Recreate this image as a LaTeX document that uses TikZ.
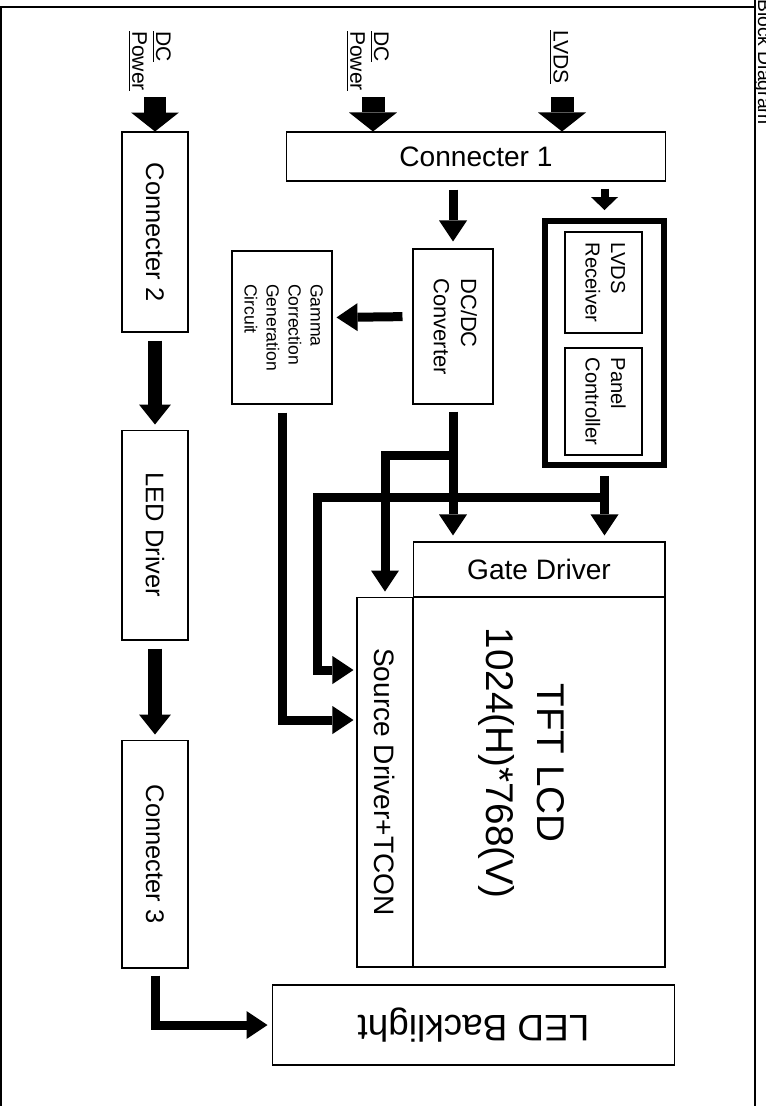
\documentclass[tikz,border=0pt]{standalone}
\usepackage{fontspec}
\setmainfont{Liberation Sans}
\usepackage{graphicx}
\usetikzlibrary{arrows.meta}

\tikzset{
  box/.style={draw, line width=0.6pt, inner sep=0pt, align=center},
  bigtext/.style={font=\fontsize{16}{19}\selectfont},
  coltext/.style={font=\fontsize{14.5}{17}\selectfont},
  smalltext/.style={font=\fontsize{12}{13.5}\selectfont},
  inarrow/.style={line width=0.46cm, -{Triangle[width=0.96cm,length=0.38cm,line width=0pt]}},
  colarrow/.style={line width=0.28cm, -{Triangle[width=0.64cm,length=0.4cm,line width=0pt]}},
  midarrow/.style={line width=0.18cm, -{Triangle[width=0.56cm,length=0.42cm,line width=0pt]}},
  shortarrow/.style={line width=0.16cm, -{Triangle[width=0.54cm,length=0.26cm,line width=0pt]}},
  frameline/.style={line width=0.8pt}
}

\begin{document}
\begin{tikzpicture}[x=0.02cm, y=-0.02cm]
\useasboundingbox (0,0) rectangle (766,1106);
    % Rahmen:
    \draw[frameline] (0,7) -- (755,7); % oben
    \draw[frameline] (1,7) -- (1,1106); % links
    \draw[frameline] (755,0) -- (755,1106); % rechts
    \node[rotate=-90, anchor=base west, inner sep=0pt, font=\fontsize{11}{13}\selectfont] (titel) at (758,-1) {Block Diagram};
    % Eingaenge:
    \node[smalltext, align=left, inner sep=0pt] (dcin1txt) at (149,61) {\rotatebox{-90}{\begin{tabular}{@{}l@{}}\underline{DC}\\\underline{Power}\end{tabular}}};
    \node[smalltext, align=left, inner sep=0pt] (dcin2txt) at (367,61) {\rotatebox{-90}{\begin{tabular}{@{}l@{}}\underline{DC}\\\underline{Power}\end{tabular}}};
    \node[smalltext, inner sep=0pt] (lvdsintxt) at (559,57) {\rotatebox{-90}{\underline{LVDS}}};
    \coordinate (in1) at (155,97);
    \coordinate (in2) at (373,97);
    \coordinate (in3) at (562,97);
    % Bloecke:
    \node[box, bigtext, minimum width=7.6cm, minimum height=0.98cm] (c1) at (476,156.5) {Connecter 1};
    \node[box, coltext, minimum width=1.32cm, minimum height=4cm] (c2) at (155,232) {\rotatebox{-90}{Connecter 2}};
    \node[box, coltext, minimum width=1.32cm, minimum height=4.2cm] (led) at (155,535) {\rotatebox{-90}{LED Driver}};
    \node[box, coltext, minimum width=1.32cm, minimum height=4.56cm] (c3) at (155,854) {\rotatebox{-90}{Connecter 3}};
    \node[box, font=\fontsize{12.5}{15.5}\selectfont, minimum width=1.6cm, minimum height=3.1cm] (dcdc) at (453,326.5) {\rotatebox{-90}{\begin{tabular}{@{}l@{}}DC/DC\\Converter\end{tabular}}};
    \node[box, font=\fontsize{10}{12.5}\selectfont, minimum width=2cm, minimum height=3.06cm] (gamma) at (282,327.5) {\rotatebox{-90}{\begin{tabular}{@{}l@{}}Gamma\\Correction\\Generation\\Circuit\end{tabular}}};
    \node[draw, line width=0.12cm, inner sep=0pt, minimum width=2.38cm, minimum height=4.88cm] (lvds) at (604.5,343) {};
    \node[box, font=\fontsize{11.5}{14.5}\selectfont, minimum width=1.54cm, minimum height=2.02cm] (rx) at (603.5,282.5) {\rotatebox{-90}{\begin{tabular}{@{}l@{}}LVDS\\Receiver\end{tabular}}};
    \node[box, font=\fontsize{11.5}{14.5}\selectfont, minimum width=1.54cm, minimum height=2.14cm] (pc) at (603.5,401.5) {\rotatebox{-90}{\begin{tabular}{@{}l@{}}Panel\\Controller\end{tabular}}};
    \node[box, bigtext, minimum width=5.04cm, minimum height=1.1cm] (gate) at (539,569.5) {Gate Driver};
    \node[box, minimum width=5.04cm, minimum height=7.4cm] (lcd) at (539,782) {};
    \node[font=\fontsize{22}{28.5}\selectfont, inner sep=0pt] (lcdtxt) at (522,763) {\rotatebox{-90}{\begin{tabular}{@{}c@{}}TFT LCD\\1024(H)*768(V)\end{tabular}}};
    \node[box, font=\fontsize{16}{18}\selectfont, minimum width=1.12cm, minimum height=7.4cm] (src) at (385,782) {\rotatebox{-90}{Source Driver+TCON}};
    \node[box, font=\fontsize{21}{24}\selectfont, minimum width=8.06cm, minimum height=1.6cm] (bl) at (473.5,1025) {\rotatebox{180}{LED Backlight}};
    % Pfeile oben:
    \draw[inarrow] (in1) -- (c2.north); % DC Power links
    \draw[inarrow] (in2) -- (in2 |- c1.north); % DC Power mitte
    \draw[inarrow] (in3) -- (in3 |- c1.north); % LVDS
    \draw[midarrow, shorten <=0.16cm, shorten >=0.14cm] (c1.south -| dcdc.north) -- (dcdc.north);
    \draw[shortarrow, shorten <=0.14cm, shorten >=0.16cm] (c1.south -| lvds.north) -- (lvds.north);
    \draw[midarrow, shorten <=0.2cm, shorten >=0.08cm] ([yshift=0.2cm]dcdc.west) -- ([yshift=0.2cm]gamma.east);
    % Pfeile zum Panel:
    \coordinate (dcsplit) at ([yshift=-1.02cm]dcdc.south);
    \coordinate (lvsplit) at ([yshift=-0.6cm]lvds.south);
    \draw[midarrow, shorten <=0.14cm, shorten >=0.12cm] (dcdc.south) -- (dcdc.south |- gate.north);
    \draw[midarrow, shorten >=0.1cm] (dcsplit) -| (src.north);
    \draw[midarrow, shorten <=0.16cm, shorten >=0.12cm] (lvds.south) -- (lvds.south |- gate.north);
    \draw[midarrow, shorten >=0.06cm] (lvsplit) -| ([xshift=-0.78cm, yshift=2.24cm]src.west) -- ([yshift=2.24cm]src.west);
    \draw[midarrow, shorten <=0.16cm, shorten >=0.06cm] (gamma.south) |- ([yshift=1.24cm]src.west);
    % Pfeile links:
    \draw[colarrow, shorten <=0.16cm, shorten >=0.1cm] (c2.south) -- (led.north);
    \draw[colarrow, shorten <=0.16cm, shorten >=0.1cm] (led.south) -- (c3.north);
    \draw[midarrow, shorten <=0.14cm, shorten >=0.08cm] (c3.south) |- (bl.west);
\end{tikzpicture}
\end{document}
